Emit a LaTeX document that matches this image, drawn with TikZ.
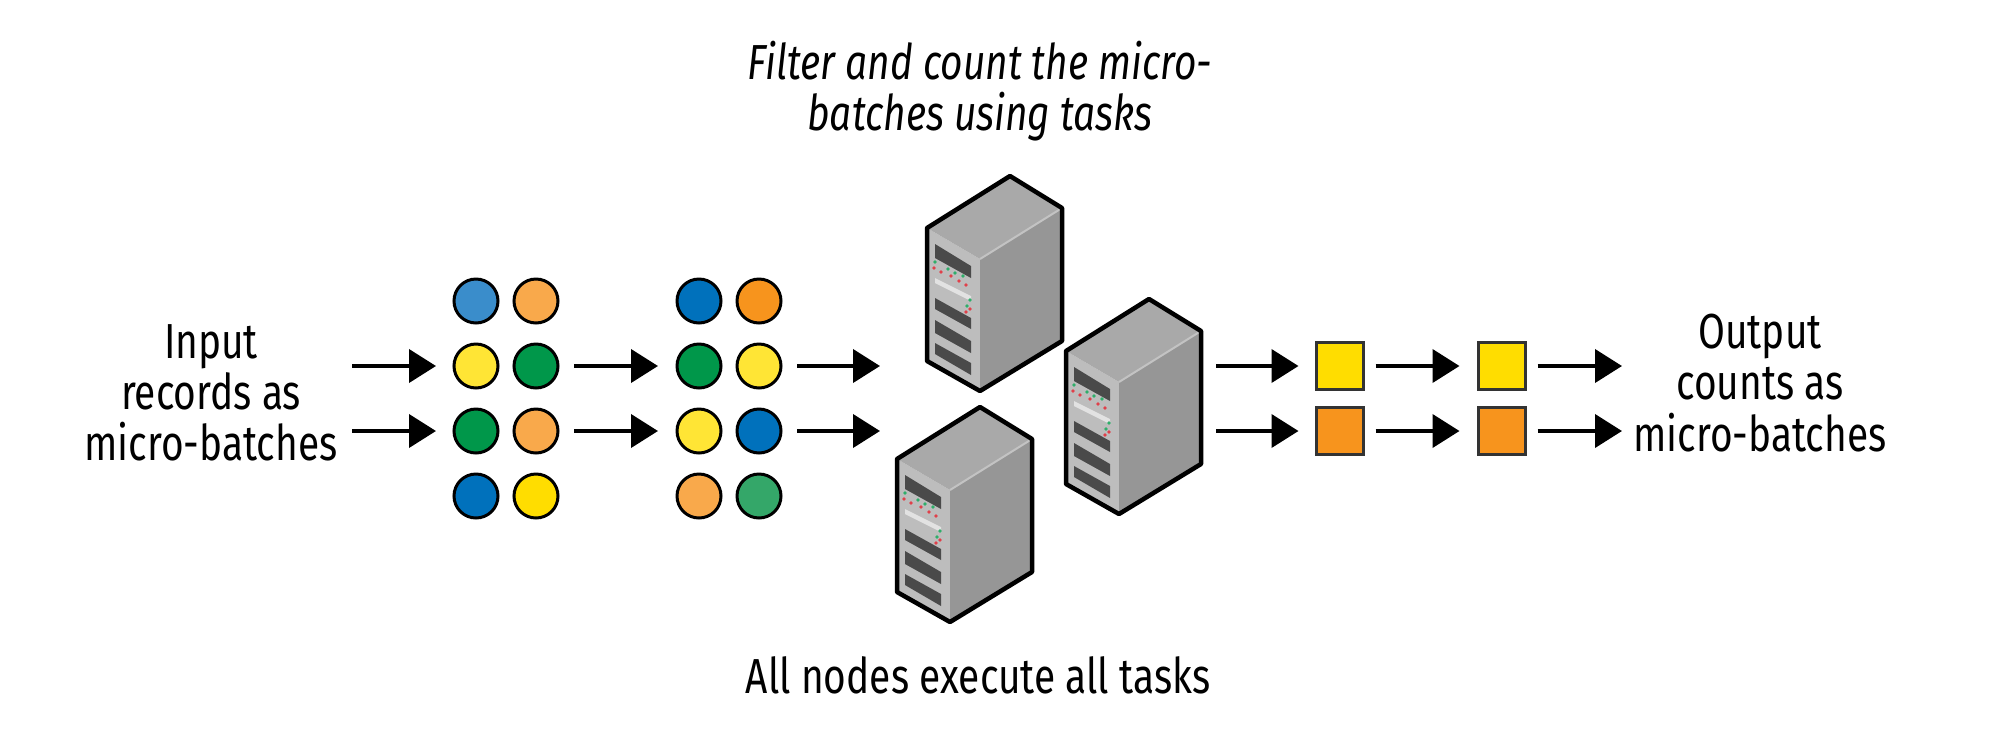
\documentclass[tikz,border=0pt]{standalone}
\usepackage{fontspec}
\setmainfont[FakeStretch=0.79]{Fira Sans}
\usepackage{xcolor}
\usetikzlibrary{arrows.meta,positioning}
\definecolor{lightblue}{HTML}{3A8DCB}
\definecolor{lightorange}{HTML}{F9A94B}
\definecolor{dotyellow}{HTML}{FFE535}
\definecolor{dotgreen}{HTML}{00974A}
\definecolor{dotorange}{HTML}{F7941D}
\definecolor{dotblue}{HTML}{0071BC}
\definecolor{deepyellow}{HTML}{FFDD00}
\definecolor{palegreen}{HTML}{34A769}
\definecolor{srvtop}{HTML}{A9A9A9}
\definecolor{srvside}{HTML}{969696}
\definecolor{srvfront}{HTML}{BDBDBD}
\definecolor{srvdark}{HTML}{4A4A4A}
\definecolor{srvstripe}{HTML}{E2E2E2}
\definecolor{ledred}{HTML}{E0404A}
\definecolor{ledgreen}{HTML}{2FAE6A}

\tikzset{
  server/.pic={
    \fill[srvfront] (-0.83,-0.52) -- (-0.30,-0.83) -- (-0.30,-2.15) -- (-0.83,-1.85) -- cycle;
    \fill[srvtop] (0,0) -- (0.52,-0.32) -- (-0.30,-0.83) -- (-0.83,-0.52) -- cycle;
    \fill[srvside] (0.52,-0.32) -- (0.52,-1.65) -- (-0.30,-2.15) -- (-0.30,-0.83) -- cycle;
    \draw[srvtop!70!white, line width=0.02cm] (0.52,-0.32) -- (-0.30,-0.83);
    % bays on the front
    \fill[srvdark] (-0.75,-0.68) -- (-0.39,-0.90) -- (-0.39,-1.02) -- (-0.75,-0.82) -- cycle;
    \fill[srvstripe] (-0.75,-1.02) -- (-0.39,-1.20) -- (-0.39,-1.25) -- (-0.75,-1.07) -- cycle;
    \fill[srvdark] (-0.75,-1.22) -- (-0.39,-1.42) -- (-0.39,-1.53) -- (-0.75,-1.33) -- cycle;
    \fill[srvdark] (-0.75,-1.44) -- (-0.39,-1.65) -- (-0.39,-1.77) -- (-0.75,-1.57) -- cycle;
    \fill[srvdark] (-0.75,-1.67) -- (-0.39,-1.87) -- (-0.39,-1.99) -- (-0.75,-1.78) -- cycle;
    % status lights
    \fill[ledgreen] (-0.75,-0.86) circle (0.018) (-0.62,-0.93) circle (0.018) (-0.55,-0.97) circle (0.018) (-0.47,-1.00) circle (0.018) (-0.40,-1.24) circle (0.018) (-0.43,-1.30) circle (0.018);
    \fill[ledred] (-0.76,-0.92) circle (0.018) (-0.69,-0.96) circle (0.018) (-0.59,-1.00) circle (0.018) (-0.51,-1.05) circle (0.018) (-0.44,-1.09) circle (0.018) (-0.44,-1.36) circle (0.018) (-0.40,-1.33) circle (0.018);
    \draw[black, line width=0.045cm, line join=round]
      (0,0) -- (0.52,-0.32) -- (0.52,-1.65) -- (-0.30,-2.15) -- (-0.83,-1.85) -- (-0.83,-0.52) -- cycle;
  }
}

\begin{document}
\begin{tikzpicture}[
  dot/.style={circle, draw=black, line width=0.03cm, minimum size=0.44cm, inner sep=0pt, outer sep=0pt},
  box/.style={rectangle, draw=black!80, line width=0.03cm, minimum size=0.47cm, inner sep=0pt, outer sep=0pt},
  arr/.style={-{Triangle[length=0.27cm, width=0.33cm]}, line width=0.04cm},
  lbl/.style={font=\fontsize{14pt}{14.6pt}\selectfont, align=center, inner sep=0pt},
  node distance=0.16cm and 0.16cm
]
\useasboundingbox (0,0) rectangle (20,7.32);

\node[lbl] (input) at (2.11,3.39) {Input\\records as\\micro-batches};
\node[lbl] (output) at (17.60,3.49) {Output\\counts as\\micro-batches};
\node[lbl] (filter) at (9.80,6.41) {\itshape Filter and count the micro-\\\itshape batches using tasks};
\node[lbl] (execute) at (9.78,0.57) {All nodes execute all tasks};

% first batch of records
\node[dot, fill=lightblue] (a1) at (4.76,4.31) {};
\node[dot, fill=lightorange, right=of a1] (b1) {};
\node[dot, fill=dotyellow] (a2) at (4.76,3.66) {};
\node[dot, fill=dotgreen, right=of a2] (b2) {};
\node[dot, fill=dotgreen] (a3) at (4.76,3.01) {};
\node[dot, fill=lightorange, right=of a3] (b3) {};
\node[dot, fill=dotblue] (a4) at (4.76,2.36) {};
\node[dot, fill=deepyellow, right=of a4] (b4) {};

% second batch of records
\node[dot, fill=dotblue] (c1) at (6.99,4.31) {};
\node[dot, fill=dotorange, right=of c1] (d1) {};
\node[dot, fill=dotgreen] (c2) at (6.99,3.66) {};
\node[dot, fill=dotyellow, right=of c2] (d2) {};
\node[dot, fill=dotyellow] (c3) at (6.99,3.01) {};
\node[dot, fill=dotblue, right=of c3] (d3) {};
\node[dot, fill=lightorange] (c4) at (6.99,2.36) {};
\node[dot, fill=palegreen, right=of c4] (d4) {};

\pic (srvtopnode) at (10.10,5.56) {server};
\pic (srvright) at (11.49,4.33) {server};
\pic (srvbottom) at (9.80,3.25) {server};

\node[box, fill=deepyellow] (y1) at (13.40,3.66) {};
\node[box, fill=deepyellow] (y2) at (15.02,3.66) {};
\node[box, fill=dotorange] (o1) at (13.40,3.01) {};
\node[box, fill=dotorange] (o2) at (15.02,3.01) {};

\coordinate (instart1) at (3.52,3.66);
\coordinate (instart2) at (3.52,3.01);
\coordinate (srvin1) at (8.80,3.66);
\coordinate (srvin2) at (8.80,3.01);
\coordinate (srvout1) at (12.16,3.66);
\coordinate (srvout2) at (12.16,3.01);
\coordinate (outend1) at (16.22,3.66);
\coordinate (outend2) at (16.22,3.01);

\draw[arr, shorten >=0.18cm] (instart1) -- (a2);
\draw[arr, shorten >=0.18cm] (instart2) -- (a3);
\draw[arr, shorten <=0.16cm, shorten >=0.19cm] (b2) -- (c2);
\draw[arr, shorten <=0.16cm, shorten >=0.19cm] (b3) -- (c3);
\draw[arr, shorten <=0.16cm] (d2) -- (srvin1);
\draw[arr, shorten <=0.16cm] (d3) -- (srvin2);
\draw[arr, shorten >=0.18cm] (srvout1) -- (y1);
\draw[arr, shorten >=0.18cm] (srvout2) -- (o1);
\draw[arr, shorten <=0.12cm, shorten >=0.19cm] (y1) -- (y2);
\draw[arr, shorten <=0.12cm, shorten >=0.19cm] (o1) -- (o2);
\draw[arr, shorten <=0.12cm] (y2) -- (outend1);
\draw[arr, shorten <=0.12cm] (o2) -- (outend2);
\end{tikzpicture}
\end{document}
